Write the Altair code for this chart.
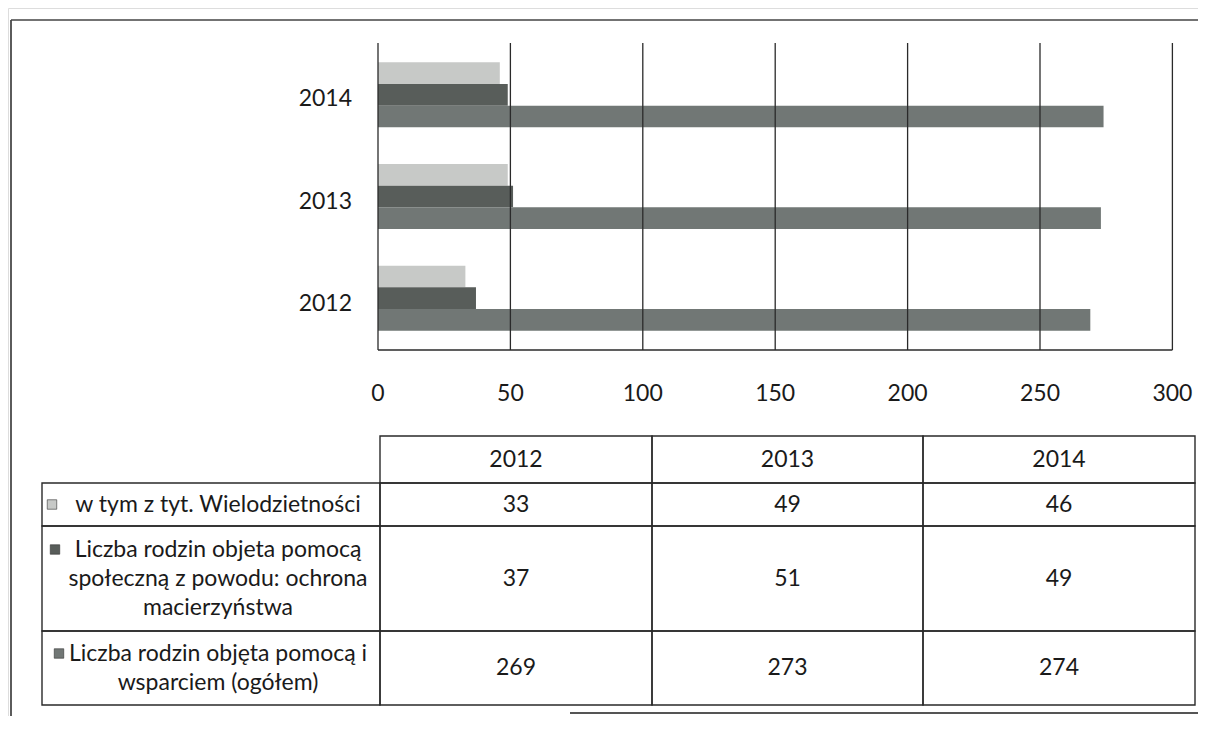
import altair as alt
import pandas as pd

# ---------------- data ----------------
years = ["2012", "2013", "2014"]
series = [
    "w tym z tyt. Wielodzietności",
    "Liczba rodzin objeta pomocą społeczną z powodu: ochrona macierzyństwa",
    "Liczba rodzin objęta pomocą i wsparciem (ogółem)",
]
series_lines = [
    "w tym z tyt. Wielodzietności",
    "Liczba rodzin objeta pomocą\nspołeczną z powodu: ochrona\nmacierzyństwa",
    "Liczba rodzin objęta pomocą i\nwsparciem (ogółem)",
]
values_wielodzietnosc = [33, 49, 46]
values_ochrona = [37, 51, 49]
values_ogolem = [269, 273, 274]
ticks = [0, 50, 100, 150, 200, 250, 300]
colors = ["#c7c9c7", "#585d5a", "#717775"]

all_values = [values_wielodzietnosc, values_ochrona, values_ogolem]

# ---------------- layout (page pixel coordinates) ----------------
W, H = 1190, 708
PAGE = 8
X0, PPU = 378, 2.648            # value 0 at page x 378, 2.648 px per unit
PLOT_TOP, PLOT_BOT = 43, 350
FONT = "Lato"
FS = 23
TXT = "#1a1a1a"
LINE = "#2a2a2a"

VX = alt.Scale(domain=[(PAGE - X0) / PPU, (PAGE + W - X0) / PPU], nice=False, zero=False)
PX = alt.Scale(domain=[PAGE, PAGE + W], range=[0, W], nice=False, zero=False)
PY = alt.Scale(domain=[PAGE, PAGE + H], range=[0, H], nice=False, zero=False)
YB = alt.Scale(domain=years[::-1], range=[PLOT_TOP - PAGE, PLOT_BOT - PAGE],
               paddingInner=0.36, paddingOuter=0.19)
CS = alt.Scale(domain=series, range=colors)

bars_df = pd.DataFrame(
    [{"year": y, "series": s, "value": v[i]}
     for s, v in zip(series, all_values) for i, y in enumerate(years)]
)
ticks_df = pd.DataFrame({"tick": ticks})
axis_df = pd.DataFrame({"a": [min(ticks)], "b": [max(ticks)]})
years_df = pd.DataFrame({"year": years})

bars = alt.Chart(bars_df).mark_bar().encode(
    x=alt.X("value:Q", scale=VX, axis=None),
    y=alt.Y("year:N", scale=YB, axis=None),
    yOffset=alt.YOffset("series:N", sort=series,
                        scale=alt.Scale(paddingInner=0, paddingOuter=0)),
    color=alt.Color("series:N", scale=CS, legend=None),
)

grid = alt.Chart(ticks_df).mark_rule(color=LINE, strokeWidth=1.3).encode(
    x=alt.X("tick:Q", scale=VX, axis=None),
    y=alt.value(PLOT_TOP - PAGE),
    y2=alt.value(PLOT_BOT - PAGE),
)
baseline = alt.Chart(axis_df).mark_rule(color=LINE, strokeWidth=1.3).encode(
    x=alt.X("a:Q", scale=VX, axis=None),
    x2="b:Q",
    y=alt.value(PLOT_BOT - PAGE),
)
tick_labels = alt.Chart(ticks_df).mark_text(
    font=FONT, fontSize=FS, color=TXT, baseline="middle"
).encode(
    x=alt.X("tick:Q", scale=VX, axis=None),
    y=alt.value(394 - PAGE),
    text="tick:Q",
)
year_labels = alt.Chart(years_df).mark_text(
    font=FONT, fontSize=FS, color=TXT, align="right", baseline="middle", dy=5
).encode(
    x=alt.value(352 - PAGE),
    y=alt.Y("year:N", scale=YB, axis=None),
    text="year:N",
)

# ---------------- table ----------------
col_edges = [42, 380, 652, 923, 1195]
row_edges = [436, 483, 526, 631, 705]
LABEL_CX = 218
square_x = [52, 55, 59]
LH = 29

cells = []
for j, y in enumerate(years):
    cy = (row_edges[0] + row_edges[1]) / 2
    cells.append({"x": col_edges[j + 1], "x2": col_edges[j + 2],
                  "y": row_edges[0], "y2": row_edges[1],
                  "cx": (col_edges[j + 1] + col_edges[j + 2]) / 2,
                  "ty": cy, "text": y})
squares = []
for i, s in enumerate(series):
    y0, y1 = row_edges[i + 1], row_edges[i + 2]
    cy = (y0 + y1) / 2
    nlines = series_lines[i].count("\n") + 1
    first = cy - (nlines - 1) * LH / 2
    cells.append({"x": col_edges[0], "x2": col_edges[1], "y": y0, "y2": y1,
                  "cx": LABEL_CX, "ty": first, "text": series_lines[i]})
    squares.append({"series": s, "sx": square_x[i], "sy": first})
    for j, y in enumerate(years):
        cells.append({"x": col_edges[j + 1], "x2": col_edges[j + 2], "y": y0, "y2": y1,
                      "cx": (col_edges[j + 1] + col_edges[j + 2]) / 2, "ty": cy,
                      "text": str(all_values[i][j])})
cells_df = pd.DataFrame(cells)
squares_df = pd.DataFrame(squares)

cell_rects = alt.Chart(cells_df).mark_rect(
    fillOpacity=0, stroke=LINE, strokeWidth=1.4
).encode(
    x=alt.X("x:Q", scale=PX, axis=None), x2="x2:Q",
    y=alt.Y("y:Q", scale=PY, axis=None), y2="y2:Q",
)
cell_text = alt.Chart(cells_df).mark_text(
    font=FONT, fontSize=FS, color=TXT, baseline="middle", align="center",
    lineBreak="\n", lineHeight=LH
).encode(
    x=alt.X("cx:Q", scale=PX, axis=None),
    y=alt.Y("ty:Q", scale=PY, axis=None),
    text="text:N",
)
legend_squares = alt.Chart(squares_df).mark_point(
    shape="square", filled=True, size=90, opacity=1, stroke="#333", strokeWidth=0.6
).encode(
    x=alt.X("sx:Q", scale=PX, axis=None),
    y=alt.Y("sy:Q", scale=PY, axis=None),
    fill=alt.Fill("series:N", scale=CS, legend=None),
)

# ---------------- page frame (scan borders) ----------------
frame_df = pd.DataFrame({"x": [11], "x2": [PAGE + W], "y": [20], "y2": [PAGE + H]})
frame_left = alt.Chart(frame_df).mark_rule(color="#333", strokeWidth=1.6).encode(
    x=alt.X("x:Q", scale=PX, axis=None),
    y=alt.Y("y:Q", scale=PY, axis=None), y2="y2:Q",
)
frame_top = alt.Chart(frame_df).mark_rule(color="#444", strokeWidth=1.4).encode(
    x=alt.X("x:Q", scale=PX, axis=None), x2="x2:Q",
    y=alt.Y("y:Q", scale=PY, axis=None),
)
bottom_df = pd.DataFrame({"x": [570], "x2": [PAGE + W], "y": [713]})
frame_bottom = alt.Chart(bottom_df).mark_rule(color="#555", strokeWidth=2).encode(
    x=alt.X("x:Q", scale=PX, axis=None), x2="x2:Q",
    y=alt.Y("y:Q", scale=PY, axis=None),
)

chart = alt.layer(
    frame_left, frame_top, frame_bottom,
    bars, grid, baseline, tick_labels, year_labels,
    cell_rects, cell_text, legend_squares,
).resolve_scale(x="independent", y="independent", color="shared").properties(
    width=W, height=H, padding=0, autosize=alt.AutoSizeParams(type="none")
).configure_view(stroke=None).configure(background="white")

chart.save("out.html", embed_options={"renderer": "svg", "actions": False})
